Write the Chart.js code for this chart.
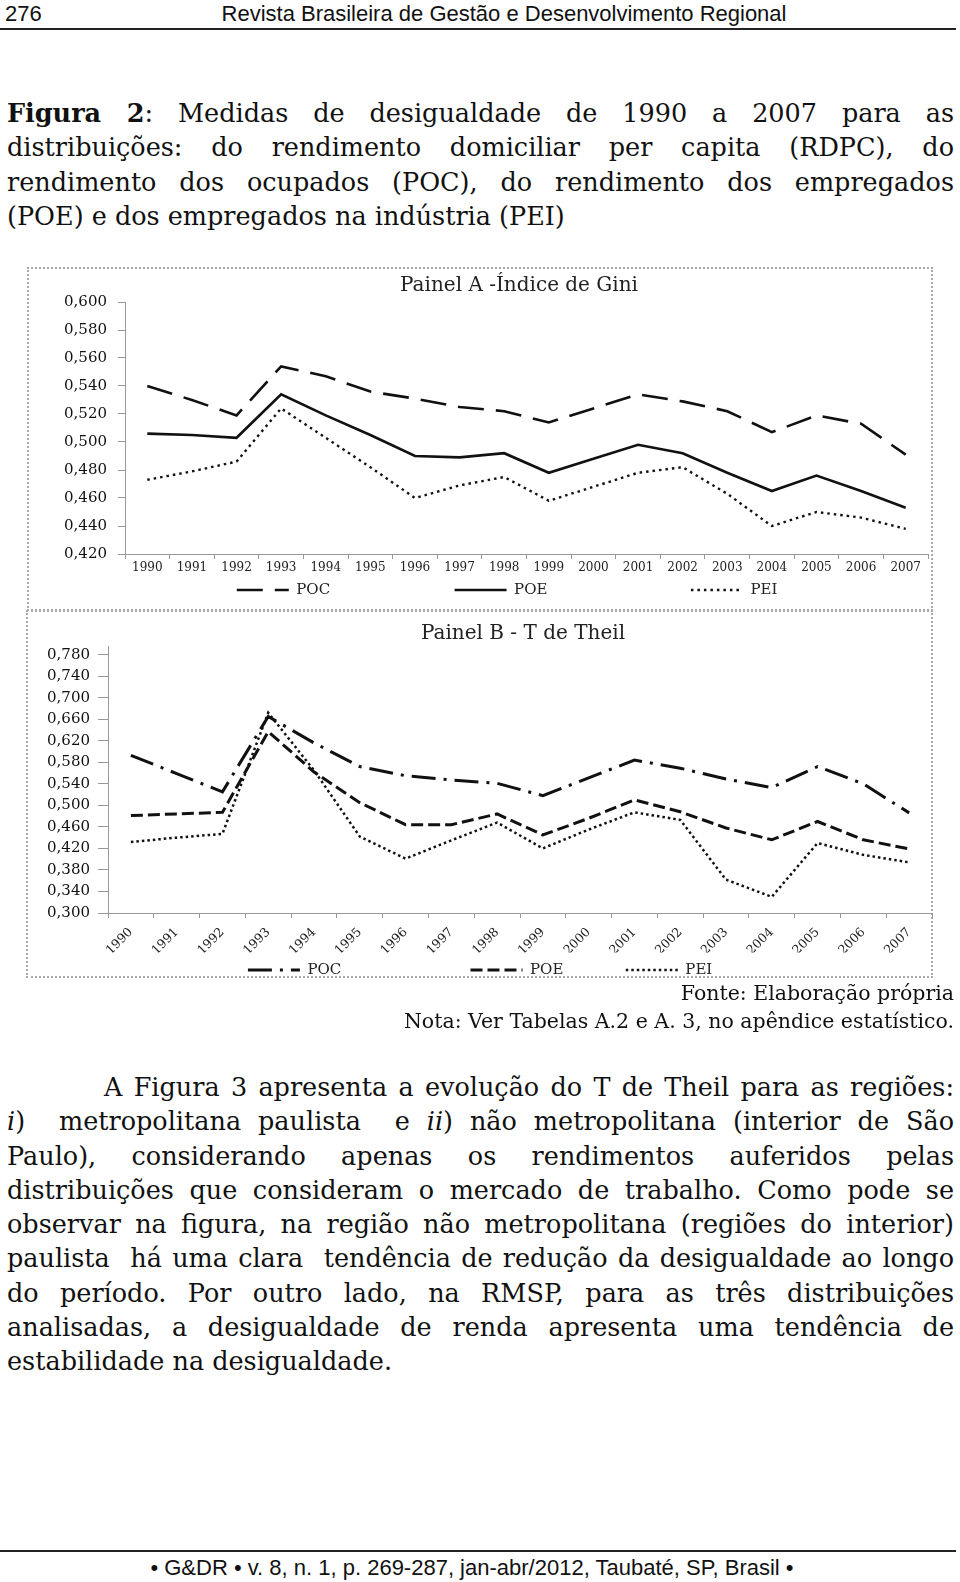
<!DOCTYPE html>
<html lang="pt">
<head>
<meta charset="UTF-8">
<title>Figura 2 - Medidas de desigualdade</title>
<script src="https://cdn.jsdelivr.net/npm/chart.js"></script>
<style>
  body { margin: 0; width: 960px; height: 1582px; overflow: hidden; background: #fff; color: #111; position: relative; }
  .abs { position: absolute; }
  .sans { font-family: 'Liberation Sans', Arial, sans-serif; font-size: 22px; line-height: 28px; }
  .serif { font-family: 'DejaVu Serif', serif; }
  /* cada linha justificada separadamente, como no original */
  .bloco { font-size: 25.5px; line-height: 34.3px; }
  .bloco div { text-align: justify; text-align-last: justify; }
  .bloco div.ult { text-align-last: left; }
  .moldura { position: absolute; border: 2px dotted #aaa; box-sizing: border-box; }
  .fio { position: absolute; left: 0; width: 956px; height: 2px; background: #222; }
</style>
</head>
<body>

<!-- cabeçalho -->
<div class="abs sans" style="left:5px; top:0;">276</div>
<div class="abs sans" style="left:0; top:0; width:1008px; text-align:center;">Revista Brasileira de Gestão e Desenvolvimento Regional</div>
<div class="fio" style="top:28px;"></div>

<!-- legenda da figura -->
<div class="abs serif bloco" style="left:7px; top:96px; width:947px;">
  <div><b>Figura 2</b>: Medidas de desigualdade de 1990 a 2007 para as</div>
  <div>distribuições: do rendimento domiciliar per capita (RDPC), do</div>
  <div>rendimento dos ocupados (POC), do rendimento dos empregados</div>
  <div class="ult">(POE) e dos empregados na indústria (PEI)</div>
</div>

<!-- molduras dos painéis -->
<div class="moldura" style="left:27px; top:267px; width:906px; height:344px;"></div>
<div class="moldura" style="left:26px; top:610px; width:907px; height:368px;"></div>

<canvas id="painelA" class="abs" width="984" height="344" style="left:27px; top:267px; width:984px; height:344px;"></canvas>
<canvas id="painelB" class="abs" width="994" height="380" style="left:26px; top:610px; width:994px; height:380px;"></canvas>

<!-- fonte e nota -->
<div class="abs serif" style="left:0; top:979px; width:954px; text-align:right; font-size:20.5px; line-height:28px;">
  Fonte: Elaboração própria<br>Nota: Ver Tabelas A.2 e A. 3, no apêndice estatístico.
</div>

<!-- texto corrido -->
<div class="abs serif bloco" style="left:7px; top:1070px; width:947px;">
  <div style="padding-left:97px;">A Figura 3 apresenta a evolução do T de Theil para as regiões:</div>
  <div><i>i</i>)&nbsp; metropolitana paulista&nbsp; e <i>ii</i>) não metropolitana (interior de São</div>
  <div>Paulo), considerando apenas os rendimentos auferidos pelas</div>
  <div>distribuições que consideram o mercado de trabalho. Como pode se</div>
  <div>observar na figura, na região não metropolitana (regiões do interior)</div>
  <div>paulista&nbsp; há uma clara&nbsp; tendência de redução da desigualdade ao longo</div>
  <div>do período. Por outro lado, na RMSP, para as três distribuições</div>
  <div>analisadas, a desigualdade de renda apresenta uma tendência de</div>
  <div class="ult">estabilidade na desigualdade.</div>
</div>

<!-- rodapé -->
<div class="fio" style="top:1550px;"></div>
<div class="abs sans" style="left:0; top:1554px; width:944px; text-align:center;">• G&amp;DR • v. 8, n. 1, p. 269-287, jan-abr/2012, Taubaté, SP, Brasil •</div>

<script>
    // linhas longas demais para a largura: aperta o espaçamento das letras para não quebrar
    document.querySelectorAll('.bloco div').forEach(linha => {
        const livre = linha.clientWidth - parseFloat(getComputedStyle(linha).paddingLeft);
        const s = document.createElement('span');
        s.style.whiteSpace = 'nowrap';
        while (linha.firstChild) s.appendChild(linha.firstChild);
        linha.appendChild(s);
        const excesso = s.offsetWidth - livre;
        if (excesso > 0) linha.style.letterSpacing = -(excesso + 3) / s.textContent.length + 'px';
        s.style.whiteSpace = 'normal';
    });
</script>

<script>
    // anos (eixo x, comum aos dois painéis)
    const anos = ['1990', '1991', '1992', '1993', '1994', '1995', '1996', '1997', '1998',
                  '1999', '2000', '2001', '2002', '2003', '2004', '2005', '2006', '2007'];

    // Painel A - Índice de Gini
    const giniPOC = [0.540, 0.530, 0.519, 0.554, 0.547, 0.536, 0.531, 0.525, 0.522, 0.514, 0.524, 0.534, 0.529, 0.522, 0.507, 0.519, 0.513, 0.491];
    const giniPOE = [0.506, 0.505, 0.503, 0.534, 0.519, 0.505, 0.490, 0.489, 0.492, 0.478, 0.488, 0.498, 0.492, 0.478, 0.465, 0.476, 0.465, 0.453];
    const giniPEI = [0.473, 0.479, 0.486, 0.524, 0.503, 0.482, 0.460, 0.469, 0.475, 0.458, 0.468, 0.478, 0.482, 0.463, 0.440, 0.450, 0.446, 0.438];
    const giniTicks = [0.42, 0.44, 0.46, 0.48, 0.50, 0.52, 0.54, 0.56, 0.58, 0.60];

    // Painel B - T de Theil
    const theilPOC = [0.593, 0.559, 0.525, 0.665, 0.616, 0.572, 0.555, 0.547, 0.541, 0.518, 0.551, 0.584, 0.569, 0.549, 0.533, 0.572, 0.540, 0.486];
    const theilPOE = [0.481, 0.484, 0.487, 0.637, 0.562, 0.505, 0.464, 0.464, 0.484, 0.445, 0.476, 0.510, 0.488, 0.458, 0.436, 0.470, 0.436, 0.419];
    const theilPEI = [0.432, 0.440, 0.447, 0.672, 0.565, 0.442, 0.401, 0.435, 0.468, 0.420, 0.455, 0.487, 0.473, 0.362, 0.330, 0.430, 0.408, 0.394];
    const theilTicks = [0.30, 0.34, 0.38, 0.42, 0.46, 0.50, 0.54, 0.58, 0.62, 0.66, 0.70, 0.74, 0.78];

    const FONTE = '"DejaVu Serif", serif';
    const COR_EIXO = '#999';
    const TAM_LEGENDA = 15;

    // 0.42 -> "0,420"
    const formata = v => v.toFixed(3).replace('.', ',');

    // legenda: traço igual ao da série e espaços no texto para o espaçamento do original
    function legendaCom(larguras) {
        return function (chart) {
            const itens = Chart.defaults.plugins.legend.labels.generateLabels(chart);
            const ctx = chart.ctx;
            ctx.save();
            ctx.font = TAM_LEGENDA + 'px ' + FONTE;
            itens.forEach((it, i) => {
                const ds = chart.data.datasets[i];
                it.lineDash = ds.borderDash;
                it.lineWidth = ds.borderWidth;
                it.strokeStyle = ds.borderColor;
                let t = it.text;
                while (ctx.measureText(t + '\u00a0').width <= larguras[i]) t += '\u00a0';
                it.text = t;
            });
            ctx.restore();
            return itens;
        };
    }

    function serie(rotulo, dados, largura, tracejado) {
        return {
            label: rotulo, data: dados, borderColor: '#111', backgroundColor: '#111',
            borderWidth: largura, borderDash: tracejado, borderCapStyle: 'butt',
            pointRadius: 0, tension: 0, fill: false
        };
    }

    function criaPainel(id, cfg) {
        return new Chart(document.getElementById(id), {
            type: 'line',
            data: { labels: anos, datasets: cfg.series },
            options: {
                responsive: false, animation: false, devicePixelRatio: 1, events: [],
                layout: { padding: { left: 0, right: 0, top: 0, bottom: cfg.padBaixo } },
                plugins: {
                    tooltip: { enabled: false },
                    title: {
                        display: true, text: cfg.titulo, color: '#222',
                        font: { family: FONTE, size: 20, weight: 'normal' },
                        padding: cfg.padTitulo
                    },
                    legend: {
                        position: 'bottom',
                        labels: {
                            usePointStyle: true, pointStyle: 'line', pointStyleWidth: 52,
                            color: '#222', padding: 10,
                            font: { family: FONTE, size: TAM_LEGENDA },
                            generateLabels: legendaCom(cfg.legendaLarg)
                        }
                    }
                },
                scales: {
                    x: {
                        offset: true,
                        grid: { display: true, drawOnChartArea: false, offset: true, tickLength: 5, color: COR_EIXO },
                        border: { display: true, color: COR_EIXO, width: 1 },
                        ticks: {
                            autoSkip: false, maxRotation: cfg.rotacao, minRotation: cfg.rotacao,
                            color: '#222', padding: cfg.padX, font: { family: FONTE, size: cfg.fonteX }
                        },
                        afterFit: s => { s.height = cfg.alturaX; }
                    },
                    y: {
                        min: cfg.min, max: cfg.max,
                        grid: { display: true, drawOnChartArea: false, tickLength: cfg.tickY, color: COR_EIXO },
                        border: { display: true, color: COR_EIXO, width: 1 },
                        ticks: { callback: formata, color: '#111', padding: cfg.padY, font: { family: FONTE, size: 15 } },
                        afterBuildTicks: s => { s.ticks = cfg.ticks.map(v => ({ value: v })); },
                        afterFit: s => { s.width = cfg.larguraY; }
                    },
                    // eixo invisível à direita: só ocupa espaço, para o título ficar centrado como no original
                    direita: {
                        position: 'right', display: true,
                        ticks: { display: false }, grid: { display: false }, border: { display: false },
                        afterFit: s => { s.width = cfg.larguraDir; }
                    }
                }
            }
        });
    }

    criaPainel('painelA', {
        titulo: 'Painel A -Índice de Gini',
        series: [
            serie('POC', giniPOC, 2.6, [26, 12]),
            serie('POE', giniPOE, 2.6, []),
            serie('PEI', giniPEI, 2.4, [2.5, 4])
        ],
        min: 0.42, max: 0.60, ticks: giniTicks,
        padTitulo: { top: 7, bottom: 4 }, padBaixo: 3.5,
        alturaX: 18.5, larguraY: 98, larguraDir: 83,
        tickY: 7, padY: 11, padX: 2, rotacao: 0, fonteX: 12,
        legendaLarg: [152, 170, 51]
    });

    criaPainel('painelB', {
        titulo: 'Painel B - T de Theil',
        series: [
            serie('POC', theilPOC, 3, [24, 8, 3, 8]),
            serie('POE', theilPOE, 3, [12, 5]),
            serie('PEI', theilPEI, 2.5, [2.5, 3])
        ],
        min: 0.30, max: 0.796, ticks: theilTicks,
        padTitulo: { top: 12, bottom: 0 }, padBaixo: 2.5,
        alturaX: 39.5, larguraY: 82, larguraDir: 88,
        tickY: 10, padY: 8, padX: 7, rotacao: 45, fonteX: 12.5,
        legendaLarg: [157, 90, 113]
    });
</script>
</body>
</html>
